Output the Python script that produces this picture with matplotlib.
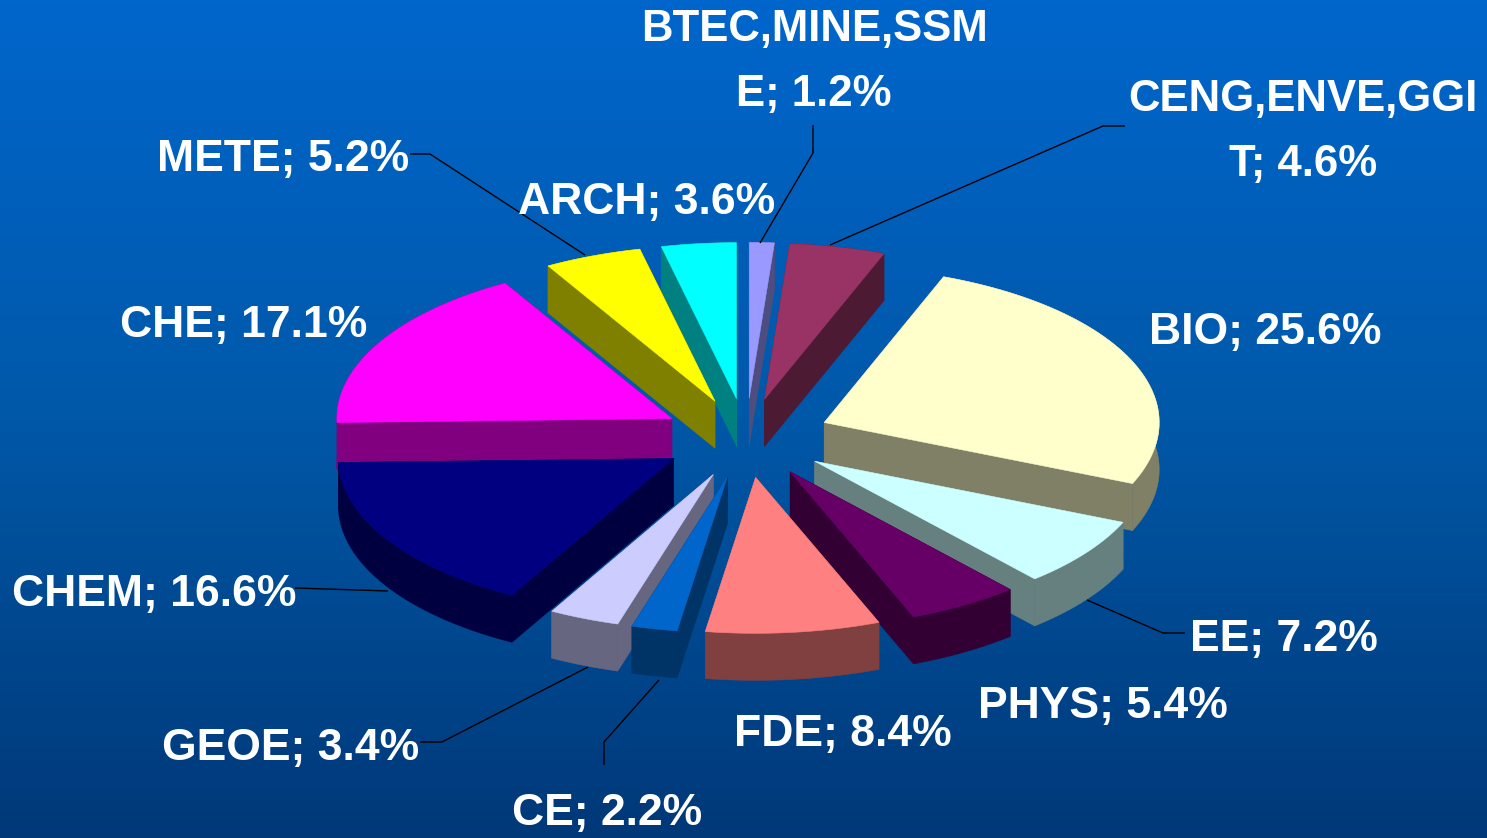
###### LIBRARIES
import numpy as np
import matplotlib
matplotlib.use('Agg')
import matplotlib.pyplot as plt
from matplotlib.colors import LinearSegmentedColormap
from matplotlib.patches import Polygon

###### DATA
categories = ['BTEC,MINE,SSM\nE', 'CENG,ENVE,GGI\nT', 'BIO', 'EE', 'PHYS', 'FDE',
              'CE', 'GEOE', 'CHEM', 'CHE', 'METE', 'ARCH']
shares = [1.2, 4.6, 25.6, 7.2, 5.4, 8.4, 2.2, 3.4, 16.6, 17.1, 5.2, 3.6]
# the printed labels add up to 100.5, the METE slice is drawn narrower than its label
drawn_shares = [1.2, 4.6, 25.6, 7.2, 5.4, 8.4, 2.2, 3.4, 16.6, 17.1, 4.7, 3.6]
top_colors = ['#9999FF', '#993366', '#FFFFCC', '#CCFFFF', '#660066', '#FF8080',
              '#0066CC', '#CCCCFF', '#000080', '#FF00FF', '#FFFF00', '#00FFFF']
side_colors = ['#4D4D80', '#4D1A33', '#808066', '#668080', '#330033', '#804040',
               '#003366', '#666680', '#000040', '#800080', '#808000', '#008080']
label_pos = [(814, 62), (1303, 132), (1265, 332), (1284, 639), (1103, 706), (843, 734),
             (607, 813), (291, 748), (154, 594), (244, 325), (283, 160), (647, 202)]
leaders = [[(813, 125), (813, 153), (760, 243)],
           [(1125, 126), (1103, 126), (830, 245)],
           [(1185, 633), (1163, 633), (1087, 600)],
           [(420, 742), (442, 742), (588, 667)],
           [(604, 765), (604, 742), (659, 680)],
           [(295, 588), (388, 591)],
           [(410, 154), (430, 154), (585, 255)]]

###### LAYOUT (pixels)
W, H = 1487, 838
CX, CY = 746, 438
RX, RY = 335, 156
EXPLODE = 85
DEPTH = 47


###### FUNCTIONS
def project(angle, radius):
    """Clockwise angle from 12 o'clock to a point on the tilted pie, relative to its center."""
    return radius * RX * np.sin(angle), -radius * RY * np.cos(angle)


def draw_slice(ax, start, end, top, side):
    """Draw one exploded slice: rim and walls first, top surface over them."""
    mid = (start + end) / 2
    ox, oy = project(mid, EXPLODE / RX)
    # the offset keeps the same squash as the pie itself
    ax0, ay0 = CX + ox, CY + oy
    angles = np.linspace(start, end, 60)
    ex, ey = project(angles, 1.0)
    ex, ey = ax0 + ex, ay0 + ey

    rim = list(zip(ex, ey)) + list(zip(ex[::-1], ey[::-1] + DEPTH))
    ax.add_patch(Polygon(rim, closed=True, fc=side, ec=side, lw=0.4))
    for i in (0, -1):
        wall = [(ax0, ay0), (ex[i], ey[i]), (ex[i], ey[i] + DEPTH), (ax0, ay0 + DEPTH)]
        ax.add_patch(Polygon(wall, closed=True, fc=side, ec=side, lw=0.4))
    surface = [(ax0, ay0)] + list(zip(ex, ey))
    ax.add_patch(Polygon(surface, closed=True, fc=top, ec=top, lw=0.4))


###### DRIVER CODE
if __name__ == '__main__':
    fig = plt.figure(figsize=(W / 100, H / 100), dpi=100)
    ax = fig.add_axes([0, 0, 1, 1])
    ax.set_xlim(0, W)
    ax.set_ylim(H, 0)
    ax.axis('off')

    # background runs from bright blue at the top to navy at the bottom
    bg = LinearSegmentedColormap.from_list('bg', ['#0066CC', '#0058A8', '#003878'])
    ax.imshow(np.linspace(0, 1, 256).reshape(-1, 1), cmap=bg, aspect='auto',
              extent=(0, W, H, 0), zorder=0)

    fractions = np.array(drawn_shares) / sum(drawn_shares)
    edges = np.concatenate([[0], np.cumsum(fractions)]) * 2 * np.pi
    mids = (edges[:-1] + edges[1:]) / 2

    # back slices first
    order = np.argsort(-np.cos(mids))
    for i in order:
        draw_slice(ax, edges[i], edges[i + 1], top_colors[i], side_colors[i])

    for path in leaders:
        xs, ys = zip(*path)
        ax.plot(xs, ys, color='black', lw=1.0, zorder=5, solid_capstyle='butt')

    for name, value, (x, y) in zip(categories, shares, label_pos):
        size = 31.5 if '\n' in name else 32
        ax.text(x, y, f'{name}; {value:.1f}%', color='white', fontsize=size, fontweight='bold',
                family='Liberation Sans', ha='center', va='center', linespacing=1.72, zorder=6)

    fig.savefig('out.png', dpi=100)
